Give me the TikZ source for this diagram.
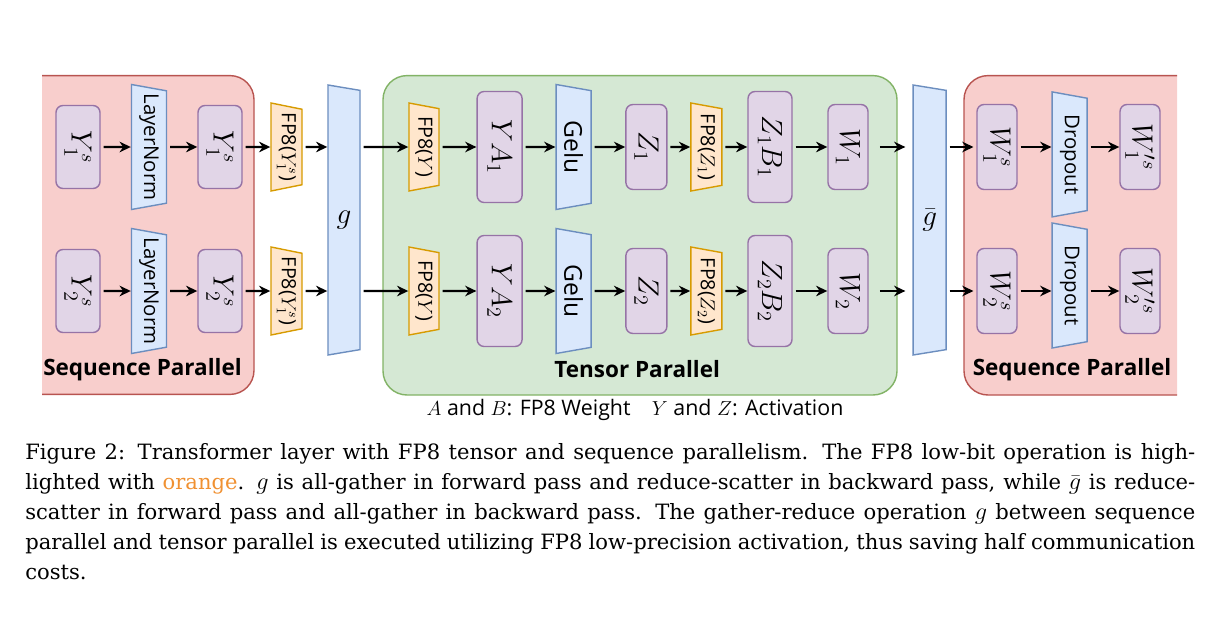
\documentclass[tikz,border=0pt]{standalone}
\usepackage{amsmath}
\usepackage{amssymb}
\usepackage{fontspec}
\setsansfont{Open Sans}
\newfontfamily\capfont{DejaVu Serif}
\usetikzlibrary{shapes.geometric,arrows.meta}

\definecolor{valfill}{HTML}{E1D5E7}
\definecolor{valdraw}{HTML}{9673A6}
\definecolor{opfill}{HTML}{DAE8FC}
\definecolor{opdraw}{HTML}{6C8EBF}
\definecolor{fpfill}{HTML}{FFE6CC}
\definecolor{fpdraw}{HTML}{D79B00}
\definecolor{seqfill}{HTML}{F8CECC}
\definecolor{seqdraw}{HTML}{B85450}
\definecolor{tenfill}{HTML}{D5E8D4}
\definecolor{tendraw}{HTML}{82B366}
\definecolor{caporange}{RGB}{240,145,50}

\newcommand{\capmath}[1]{{\fontsize{17}{21}\selectfont$#1$}}

\tikzset{
  val/.style={rectangle, rounded corners=5pt, draw=valdraw, fill=valfill, line width=1pt, rotate=-90,
    minimum width=2.125cm, minimum height=1cm, inner sep=1pt, font=\fontsize{20}{24}\selectfont},
  op/.style={trapezium, trapezium stretches body, trapezium left angle=72, trapezium right angle=72,
    draw=opdraw, fill=opfill, line width=1pt, rotate=-90, inner sep=0pt,
    minimum width=3.125cm, minimum height=0.875cm, font=\sffamily\fontsize{14.5}{17}\selectfont},
  fp/.style={op, draw=fpdraw, fill=fpfill, minimum width=2.2cm, minimum height=0.775cm,
    font=\sffamily\fontsize{14}{17}\selectfont},
  comm/.style={op, trapezium left angle=70, trapezium right angle=70, minimum width=6.75cm,
    minimum height=0.8cm, font=\fontsize{20}{24}\selectfont},
  arr/.style={-{Stealth[length=8pt,width=7.5pt]}, line width=1.6pt, shorten <=2pt},
  group/.style={rounded corners=0.6cm, line width=1pt},
  grouplabel/.style={font=\sffamily\bfseries\fontsize{16}{19}\selectfont},
}

\begin{document}
\begin{tikzpicture}[font=\sffamily]
        \useasboundingbox (0,0) rectangle (30.425,15.75);

        % Parallel regions
        \begin{scope}
          \clip (1.05,0) rectangle (29.425,15.75);
          \draw[group, draw=seqdraw, fill=seqfill] (0.2,5.89) rectangle (6.35,13.86);
          \draw[group, draw=seqdraw, fill=seqfill] (24.1,5.875) rectangle (30.3,13.86);
        \end{scope}
        \draw[group, draw=tendraw, fill=tenfill] (9.575,5.875) rectangle (22.425,13.86);

        % Sequence parallel (input side)
        \node[val, minimum width=2.075cm, minimum height=1.1cm] (Ys11) at (1.95,12.075) {$Y_1^s$};
        \node[op] (LN1) at (3.725,12.075) {LayerNorm};
        \node[val, minimum width=2.075cm, minimum height=1.1cm] (Ys12) at (5.5,12.075) {$Y_1^s$};
        \node[fp] (FA1) at (7.1625,12.075) {FP8($Y_1^s$)};

        \node[val, minimum width=2.075cm, minimum height=1.1cm] (Ys21) at (1.95,8.475) {$Y_2^s$};
        \node[op] (LN2) at (3.725,8.475) {LayerNorm};
        \node[val, minimum width=2.075cm, minimum height=1.1cm] (Ys22) at (5.5,8.475) {$Y_2^s$};
        \node[fp] (FA2) at (7.1625,8.475) {FP8($Y_1^s$)};

        % Communication
        \node[comm] (g) at (8.6,10.25) {\rotatebox{90}{$g$}};
        \node[comm, minimum height=0.825cm] (gb) at (23.24,10.25) {\rotatebox{90}{$\bar{g}$}};

        % Tensor parallel
        \node[fp, minimum height=0.75cm] (FY1) at (10.6,12.075) {FP8($Y$)};
        \node[val, minimum width=2.775cm, minimum height=1.125cm] (YA1) at (12.49,12.075) {$YA_1$};
        \node[op, font=\sffamily\fontsize{17.5}{20}\selectfont] (Ge1) at (14.34,12.075) {Gelu};
        \node[val, minimum height=1.025cm] (Z1) at (16.16,12.075) {$Z_1$};
        \node[fp] (FZ1) at (17.66,12.075) {FP8($Z_1$)};
        \node[val, minimum width=2.775cm, minimum height=1.1cm] (ZB1) at (19.25,12.075) {$Z_1B_1$};
        \node[val] (W1) at (21.2,12.075) {$W_1$};

        \node[fp, minimum height=0.75cm] (FY2) at (10.6,8.475) {FP8($Y$)};
        \node[val, minimum width=2.775cm, minimum height=1.125cm] (YA2) at (12.49,8.475) {$YA_2$};
        \node[op, font=\sffamily\fontsize{17.5}{20}\selectfont] (Ge2) at (14.34,8.475) {Gelu};
        \node[val, minimum height=1.025cm] (Z2) at (16.16,8.475) {$Z_2$};
        \node[fp] (FZ2) at (17.66,8.475) {FP8($Z_2$)};
        \node[val, minimum width=2.775cm, minimum height=1.1cm] (ZB2) at (19.25,8.475) {$Z_2B_2$};
        \node[val] (W2) at (21.2,8.475) {$W_2$};

        % Sequence parallel (output side)
        \node[val] (Ws1) at (24.925,12.075) {$W_1^s$};
        \node[op] (Dr1) at (26.74,11.89) {Dropout};
        \node[val] (Wp1) at (28.5,12.075) {$W_1^{\prime s}$};

        \node[val] (Ws2) at (24.925,8.475) {$W_2^s$};
        \node[op] (Dr2) at (26.74,8.6125) {Dropout};
        \node[val] (Wp2) at (28.5,8.475) {$W_2^{\prime s}$};

        % Region labels
        \node[grouplabel] (seqL) at (3.5625,6.52) {Sequence Parallel};
        \node[grouplabel] (ten) at (15.93,6.52) {Tensor Parallel};
        \node[grouplabel] (seqR) at (26.8,6.52) {Sequence Parallel};
        \node[font=\sffamily\fontsize{15.2}{18}\selectfont] (legend) at (15.875,5.5)
          {$A$ and $B$: FP8 Weight\quad$Y$ and $Z$: Activation};

        % Define the edges
        \draw[arr] (Ys11) -- (LN1);
        \draw[arr] (LN1) -- (Ys12);
        \draw[arr] (Ys12) -- (FA1);
        \draw[arr] (FA1) -- (FA1 -| g.south);
        \draw[arr] (g.north |- FY1) -- (FY1);
        \draw[arr] (FY1) -- (YA1);
        \draw[arr] (YA1) -- (Ge1);
        \draw[arr] (Ge1) -- (Z1);
        \draw[arr] (Z1) -- (FZ1);
        \draw[arr] (FZ1) -- (ZB1);
        \draw[arr] (ZB1) -- (W1);
        \draw[arr, shorten <=8pt, shorten >=5pt] (W1) -- (W1 -| gb.south);
        \draw[arr, shorten >=2pt] (gb.north |- Ws1) -- (Ws1);
        \draw[arr] (Ws1) -- (Ws1 -| Dr1.south);
        \draw[arr] (Dr1.north |- Wp1) -- (Wp1);

        \draw[arr] (Ys21) -- (LN2);
        \draw[arr] (LN2) -- (Ys22);
        \draw[arr] (Ys22) -- (FA2);
        \draw[arr] (FA2) -- (FA2 -| g.south);
        \draw[arr] (g.north |- FY2) -- (FY2);
        \draw[arr] (FY2) -- (YA2);
        \draw[arr] (YA2) -- (Ge2);
        \draw[arr] (Ge2) -- (Z2);
        \draw[arr] (Z2) -- (FZ2);
        \draw[arr] (FZ2) -- (ZB2);
        \draw[arr] (ZB2) -- (W2);
        \draw[arr, shorten <=8pt, shorten >=5pt] (W2) -- (W2 -| gb.south);
        \draw[arr, shorten >=2pt] (gb.north |- Ws2) -- (Ws2);
        \draw[arr] (Ws2) -- (Ws2 -| Dr2.south);
        \draw[arr] (Dr2.north |- Wp2) -- (Wp2);

        % Caption
        \node[anchor=north west, inner sep=0pt, text width=29.25cm, align=justify,
              font=\capfont\fontsize{15}{21.34}\selectfont] (caption) at (0.625,4.68)
          {Figure 2: Transformer layer with FP8 tensor and sequence parallelism. The FP8 low-bit operation is high-\linebreak
           lighted with \textcolor{caporange}{orange}. \capmath{g} is all-gather in forward pass and reduce-scatter in backward pass, while \capmath{\bar{g}} is reduce-\linebreak
           scatter in forward pass and all-gather in backward pass. The gather-reduce operation \capmath{g} between sequence\linebreak
           parallel and tensor parallel is executed utilizing FP8 low-precision activation, thus saving half communication\linebreak
           costs.};
    \end{tikzpicture}
\end{document}
